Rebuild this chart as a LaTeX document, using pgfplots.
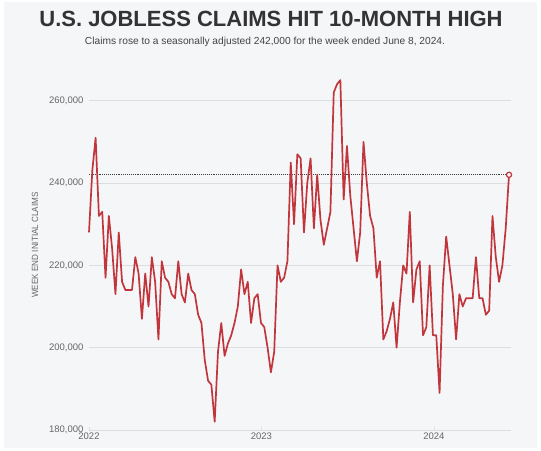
\documentclass[border=0pt]{standalone}
\usepackage{fontspec}
\setmainfont{Liberation Sans}
\usepackage{pgfplots}
\usepackage{pgfplotstable}
\pgfplotsset{compat=1.18}
\definecolor{bg}{HTML}{F5F6F8}
\definecolor{titlec}{HTML}{333333}
\definecolor{subc}{HTML}{444444}
\definecolor{tickc}{HTML}{666666}
\definecolor{gridc}{HTML}{DCDDE0}
\definecolor{linec}{HTML}{C1363C}
\pgfplotstableread{
v
228
243
251
232
233
217
232
224
213
228
216
214
214
214
222
218
207
218
210
222
216
202
221
217
216
213
212
221
213
211
218
214
213
208
206
197
192
191
182
199
206
198
201
203
206
210
219
213
216
206
212
213
206
205
200
194
199
220
216
217
221
245
230
247
246
228
240
246
229
242
231
225
229
233
262
264
265
236
249
237
229
221
228
250
240
232
229
217
221
202
204
207
211
200
211
220
218
233
211
219
221
203
205
220
203
203
189
215
227
220
213
202
213
210
212
212
212
222
212
212
208
209
232
222
216
220
229
242
}\claims
\begin{document}
\begin{tikzpicture}
\fill[white] (0pt,0pt) rectangle (541pt,450pt);
\fill[bg] (4pt,2pt) rectangle (537pt,448pt);
\node[font=\fontsize{22}{24}\selectfont\bfseries, text=titlec] at (271pt,431pt) {U.S. JOBLESS CLAIMS HIT 10-MONTH HIGH};
\node[font=\fontsize{10.2}{12}\selectfont, text=subc] at (265pt,408pt) {Claims rose to a seasonally adjusted 242,000 for the week ended June 8, 2024.};
\node[font=\fontsize{9}{10}\selectfont, text=tickc, rotate=90, xscale=0.9] at (35pt,205pt) {WEEK END INITIAL CLAIMS};
\begin{axis}[
  at={(89pt,20pt)}, anchor=south west,
  scale only axis, width=422pt, height=354pt,
  xmin=0, xmax=127.6, ymin=180, ymax=266,
  axis line style={draw=none},
  ytick={180,200,220,240,260},
  yticklabels={{180,000},{200,000},{220,000},{240,000},{260,000}},
  xtick={0,52.14,104.29},
  xticklabels={2022,2023,2024},
  ymajorgrids, grid style={draw=gridc, line width=0.7pt},
  ytick style={draw=none},
  xtick style={draw=gridc, line width=0.7pt},
  xtick pos=bottom, major tick length=3pt,
  tick label style={font=\fontsize{9.5}{11}\selectfont, text=tickc},
  yticklabel style={xshift=-2pt},
  xticklabel style={yshift=1pt},
  clip=false,
]
\addplot[draw=black!75, line width=0.9pt, densely dotted] coordinates {(0,242) (127,242)};
\addplot[draw=linec, line width=1.7pt, line join=round] table[x expr=\coordindex, y=v] {\claims};
\addplot[only marks, mark=*, mark size=2.6pt, mark options={fill=bg, draw=linec, line width=1.2pt}] coordinates {(127,242)};
\end{axis}
\pgfresetboundingbox
\useasboundingbox (0pt,0pt) rectangle (541pt,450pt);
\end{tikzpicture}
\end{document}
